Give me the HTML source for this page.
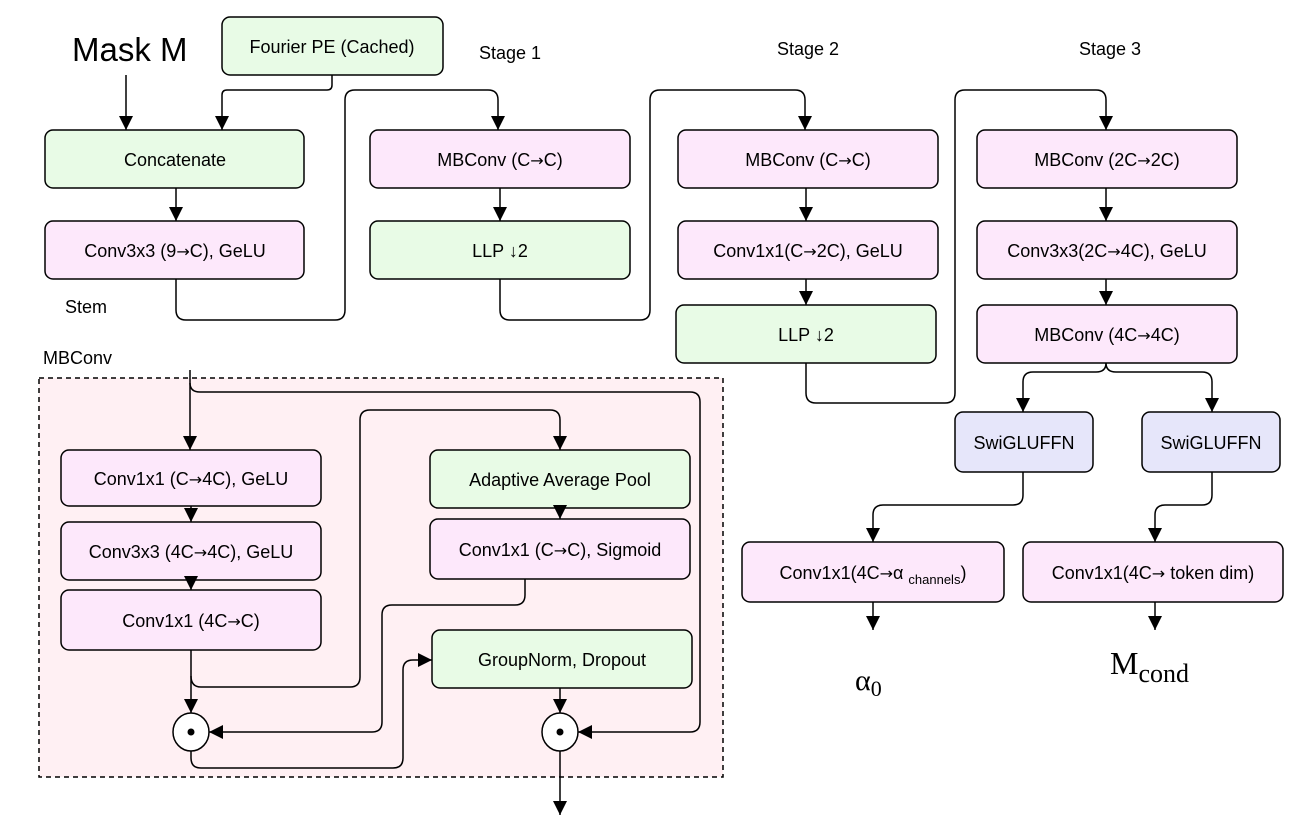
<!DOCTYPE html>
<html><head><meta charset="utf-8"><style>
body{margin:0;background:#fff}
svg text{font-family:"Liberation Sans",sans-serif;font-size:18px;fill:#000}
.ar{font-family:"DejaVu Sans",sans-serif;font-size:16px}
</style></head><body>
<svg width="1314" height="833" viewBox="0 0 1314 833" xmlns="http://www.w3.org/2000/svg">
<defs>
<marker id="b" viewBox="0 0 10 10" markerWidth="14" markerHeight="14" refX="10" refY="5" orient="auto" markerUnits="userSpaceOnUse"><path d="M0,0 L10,5 L0,10 z" fill="#000"/></marker></defs>
<rect x="39" y="378" width="684" height="399" fill="#fff0f3" stroke="#000" stroke-width="1.5" stroke-dasharray="5,4"/>
<g stroke="#000" stroke-width="1.5">
<rect x="222" y="17" width="221" height="58" rx="8" fill="#e8fbe6"/>
<rect x="45" y="130" width="259" height="58" rx="8" fill="#e8fbe6"/>
<rect x="45" y="221" width="259" height="58" rx="8" fill="#fde8fb"/>
<rect x="370" y="130" width="260" height="58" rx="8" fill="#fde8fb"/>
<rect x="370" y="221" width="260" height="58" rx="8" fill="#e8fbe6"/>
<rect x="678" y="130" width="260" height="58" rx="8" fill="#fde8fb"/>
<rect x="678" y="221" width="260" height="58" rx="8" fill="#fde8fb"/>
<rect x="676" y="305" width="260" height="58" rx="8" fill="#e8fbe6"/>
<rect x="977" y="130" width="260" height="58" rx="8" fill="#fde8fb"/>
<rect x="977" y="221" width="260" height="58" rx="8" fill="#fde8fb"/>
<rect x="977" y="305" width="260" height="58" rx="8" fill="#fde8fb"/>
<rect x="955" y="412" width="138" height="60" rx="8" fill="#e6e6fa"/>
<rect x="1142" y="412" width="138" height="60" rx="8" fill="#e6e6fa"/>
<rect x="742" y="542" width="262" height="60" rx="8" fill="#fde8fb"/>
<rect x="1023" y="542" width="260" height="60" rx="8" fill="#fde8fb"/>
<rect x="61" y="450" width="260" height="56" rx="8" fill="#fde8fb"/>
<rect x="61" y="522" width="260" height="58" rx="8" fill="#fde8fb"/>
<rect x="61" y="590" width="260" height="60" rx="8" fill="#fde8fb"/>
<rect x="430" y="450" width="260" height="58" rx="8" fill="#e8fbe6"/>
<rect x="430" y="519" width="260" height="60" rx="8" fill="#fde8fb"/>
<rect x="432" y="630" width="260" height="58" rx="8" fill="#e8fbe6"/>
<ellipse cx="191" cy="732" rx="18" ry="19" fill="#fff"/>
<ellipse cx="560" cy="732" rx="18" ry="19" fill="#fff"/>
</g>
<circle cx="191" cy="732" r="3.5"/><circle cx="560" cy="732" r="3.5"/>
<g fill="none" stroke="#000" stroke-width="1.5" stroke-linejoin="round" marker-end="url(#b)">
<path d="M126,75 V130"/>
<path d="M176,188 V221"/>
<path d="M332,75 V85 Q332,90 327,90 H227 Q222,90 222,95 V130"/>
<path d="M176,279 V310 Q176,320 186,320 H335 Q345,320 345,310 V100 Q345,90 355,90 H488 Q498,90 498,100 V130"/>
<path d="M500,188 V221"/>
<path d="M500,279 V310 Q500,320 510,320 H640 Q650,320 650,310 V100 Q650,90 660,90 H795 Q805,90 805,100 V130"/>
<path d="M806,188 V221"/><path d="M806,279 V305"/>
<path d="M806,363 V393 Q806,403 816,403 H945 Q955,403 955,393 V100 Q955,90 965,90 H1096 Q1106,90 1106,100 V130"/>
<path d="M1106,188 V221"/><path d="M1106,279 V305"/>
<path d="M1106,363 Q1106,372 1096,372 H1033 Q1023,372 1023,382 V412"/>
<path d="M1106,363 Q1106,372 1116,372 H1202 Q1212,372 1212,382 V412"/>
<path d="M1023,472 V495 Q1023,505 1013,505 H883 Q873,505 873,515 V542"/>
<path d="M1212,472 V495 Q1212,505 1202,505 H1165 Q1155,505 1155,515 V542"/>
<path d="M873,602 V630"/><path d="M1155,602 V630"/>
<path d="M190,370 V450"/>
<path d="M191,506 V522"/><path d="M191,580 V590"/>
<path d="M191,650 V713"/>
<path d="M560,508 V519"/>
<path d="M560,688 V713"/>
<path d="M560,751 V815"/>
<path d="M190,383 Q190,392 200,392 H690 Q700,392 700,402 V722 Q700,732 690,732 H578"/>
<path d="M191,676 Q191,687 201,687 H350 Q360,687 360,677 V420 Q360,410 370,410 H550 Q560,410 560,420 V450"/>
<path d="M525,579 V595 Q525,605 515,605 H392 Q382,605 382,615 V722 Q382,732 372,732 H209"/>
<path d="M191,751 V758 Q191,768 201,768 H393 Q403,768 403,758 V670 Q403,660 413,660 H432"/>
</g>
<g text-anchor="middle">
<text x="332" y="53">Fourier PE (Cached)</text>
<text x="175" y="166">Concatenate</text>
<text x="175" y="257">Conv3x3 (9<tspan class="ar">→</tspan>C), GeLU</text>
<text x="500" y="166">MBConv (C<tspan class="ar">→</tspan>C)</text>
<text x="500" y="257">LLP ↓2</text>
<text x="808" y="166">MBConv (C<tspan class="ar">→</tspan>C)</text>
<text x="808" y="257">Conv1x1(C<tspan class="ar">→</tspan>2C), GeLU</text>
<text x="806" y="341">LLP ↓2</text>
<text x="1107" y="166">MBConv (2C<tspan class="ar">→</tspan>2C)</text>
<text x="1107" y="257">Conv3x3(2C<tspan class="ar">→</tspan>4C), GeLU</text>
<text x="1107" y="341">MBConv (4C<tspan class="ar">→</tspan>4C)</text>
<text x="1024" y="449">SwiGLUFFN</text>
<text x="1211" y="449">SwiGLUFFN</text>
<text x="873" y="579">Conv1x1(4C<tspan class="ar">→</tspan>α <tspan font-size="13" dy="5">channels</tspan><tspan dy="-5">)</tspan></text>
<text x="1153" y="579">Conv1x1(4C<tspan class="ar">→</tspan> token dim)</text>
<text x="191" y="485">Conv1x1 (C<tspan class="ar">→</tspan>4C), GeLU</text>
<text x="191" y="558">Conv3x3 (4C<tspan class="ar">→</tspan>4C), GeLU</text>
<text x="191" y="627">Conv1x1 (4C<tspan class="ar">→</tspan>C)</text>
<text x="560" y="486">Adaptive Average Pool</text>
<text x="560" y="556">Conv1x1 (C<tspan class="ar">→</tspan>C), Sigmoid</text>
<text x="562" y="666">GroupNorm, Dropout</text>
<text x="510" y="59">Stage 1</text>
<text x="808" y="55">Stage 2</text>
<text x="1110" y="55">Stage 3</text>
</g>
<text x="72" y="61" style="font-size:33px">Mask M</text>
<text x="65" y="313">Stem</text>
<text x="43" y="364">MBConv</text>
<text x="855" y="690" style="font-family:'Liberation Serif',serif;font-size:30px">α<tspan font-size="22" dy="6">0</tspan></text>
<text x="1110" y="674" style="font-family:'Liberation Serif',serif;font-size:32px">M<tspan font-size="26" dy="8">cond</tspan></text>
</svg>
</body></html>
